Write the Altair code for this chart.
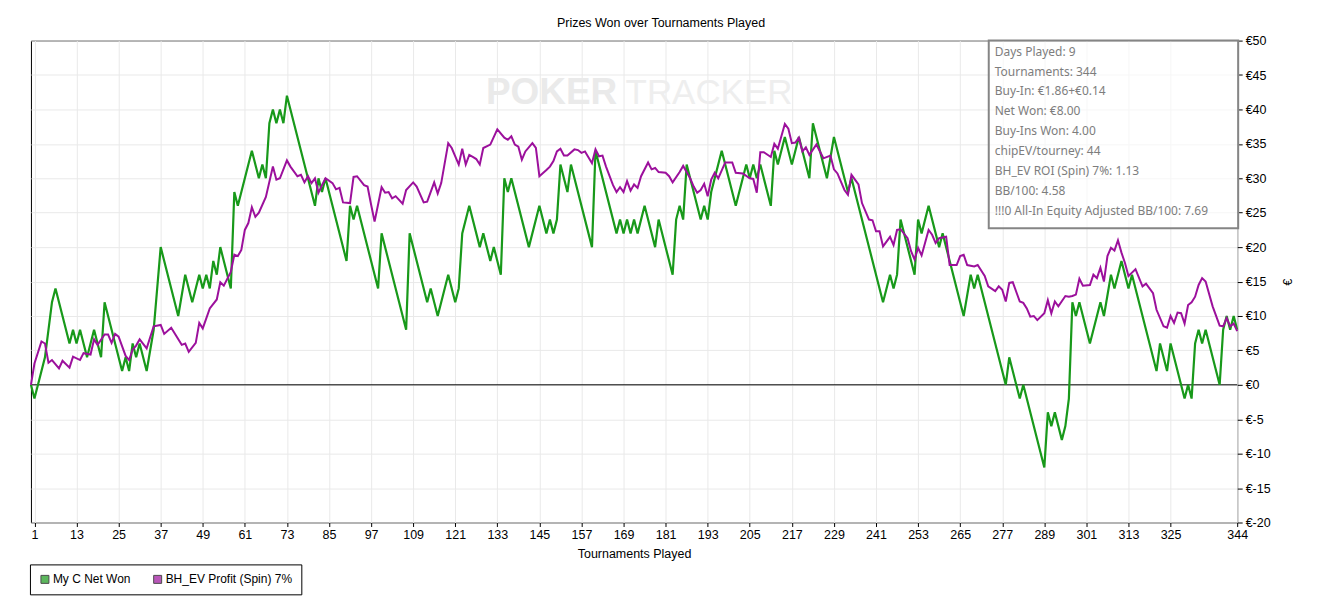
import altair as alt
import pandas as pd

# ---------------- data ----------------
green_t = [0, 1, 4, 6, 7, 11, 12, 13, 14, 16, 18, 20, 21, 26, 27, 28, 29, 30, 31, 33, 35, 37,
           42, 44, 46, 48, 49, 50, 51, 52, 53, 54, 57, 58, 59, 63, 65, 66, 67, 68, 69, 70, 71,
           72, 73, 81, 82, 83, 84, 90, 91, 92, 93, 99, 100, 107, 108, 113, 114, 116, 119, 121,
           122, 123, 125, 128, 129, 131, 132, 134, 135, 136, 137, 142, 145, 147, 148, 149, 150,
           151, 153, 154, 160, 161, 167, 168, 169, 170, 171, 172, 173, 175, 178, 179, 183, 184,
           185, 186, 187, 191, 192, 193, 194, 197, 201, 204, 205, 206, 207, 208, 211, 212, 213,
           215, 217, 219, 222, 223, 227, 229, 233, 234, 243, 245, 246, 247, 248, 252, 253, 254,
           256, 259, 260, 266, 268, 269, 270, 278, 279, 282, 283, 289, 290, 291, 292, 294, 295,
           296, 297, 298, 299, 302, 305, 306, 308, 309, 311, 313, 314, 321, 322, 324, 325, 329,
           330, 331, 332, 333, 334, 335, 339, 340, 341, 342, 343, 344]
green_v = [0, -2, 4, 12, 14, 6, 8, 6, 8, 4, 8, 4, 12, 2, 4, 2, 6, 4, 6, 2, 8, 20,
           10, 16, 12, 16, 14, 16, 14, 18, 16, 20, 14, 28, 26, 34, 30, 32, 30, 38, 40, 38, 40,
           38, 42, 26, 30, 28, 30, 18, 26, 24, 26, 14, 22, 8, 22, 12, 14, 10, 16, 12,
           14, 22, 26, 20, 22, 18, 20, 16, 30, 28, 30, 20, 26, 22, 24, 22, 24,
           32, 28, 32, 20, 34, 22, 24, 22, 24, 22, 24, 22, 26, 20, 24, 16, 24,
           26, 24, 32, 24, 26, 24, 28, 34, 26, 32, 30, 32, 30, 32, 26, 34, 32,
           36, 32, 36, 30, 38, 30, 36, 28, 30, 12, 16, 14, 16, 24, 16, 24, 22,
           26, 20, 22, 10, 16, 14, 16, 0, 4, -2, 0, -12, -4, -6, -4, -8, -6,
           -2, 12, 10, 12, 6, 12, 10, 16, 14, 18, 14, 16, 2, 6, 2, 6, -2,
           0, -2, 6, 8, 6, 8, 0, 8, 10, 8, 10, 8]

purple_t = [0, 1, 3, 4, 5, 6, 8, 9, 11, 12, 14, 15, 17, 18, 19, 21, 22, 23, 24, 25, 27, 28,
            29, 30, 31, 33, 35, 37, 38, 40, 43, 44, 45, 47, 48, 49, 51, 53, 54, 55, 57, 58, 59,
            60, 61, 62, 63, 64, 65, 67, 69, 70, 71, 73, 74, 76, 77, 78, 79, 80, 81, 82, 83, 84,
            86, 87, 88, 89, 91, 92, 93, 95, 96, 97, 98, 100, 101, 102, 103, 104, 106, 107, 109,
            110, 112, 113, 115, 116, 117, 119, 120, 122, 123, 124, 125, 126, 127, 128, 129, 131,
            133, 135, 136, 137, 138, 139, 140, 141, 143, 144, 145, 147, 148, 149, 150, 151, 152,
            153, 155, 156, 157, 158, 160, 161, 162, 163, 164, 166, 167, 168, 169, 170, 171, 172,
            173, 174, 176, 177, 178, 179, 181, 182, 183, 185, 186, 188, 189, 190, 191, 192, 193,
            194, 195, 196, 198, 200, 201, 203, 205, 206, 207, 208, 209, 211, 212, 213, 215, 216,
            217, 218, 219, 220, 221, 222, 224, 226, 228, 229, 230, 232, 233, 234, 236, 237, 239,
            240, 241, 242, 243, 245, 246, 247, 248, 250, 251, 252, 253, 254, 256, 257, 258, 259,
            261, 262, 264, 265, 266, 267, 269, 270, 271, 272, 273, 275, 276, 277, 278, 279, 280,
            282, 283, 284, 285, 286, 287, 289, 290, 291, 292, 293, 295, 296, 297, 298, 299, 300,
            302, 303, 304, 305, 306, 307, 308, 309, 310, 311, 312, 313, 314, 315, 317, 318, 320,
            321, 323, 324, 325, 326, 327, 328, 329, 330, 331, 332, 333, 334, 335, 337, 339, 340,
            341, 342, 343, 344]
purple_v = [0, 3.1, 6.3, 6.0, 3.2, 3.6, 2.4, 3.5, 2.5, 4.1, 3.6, 4.6, 4.4, 6.6, 5.8, 7.3, 7.3, 6.1,
            7.4, 7.0, 4.2, 3.6, 5.1, 5.7, 6.6, 5.3, 8.5, 8.7, 7.4, 8.3, 5.8, 6.0, 4.8, 6.1, 9.0,
            8.2, 11.1, 12.4, 14.9, 14.4, 16.4, 18.9, 18.7, 19.6, 22.5, 23.5, 25.8, 24.4, 25.0,
            27.3, 31.7, 29.8, 30.0, 32.6, 31.7, 30.3, 30.5, 29.4, 30.3, 29.3, 30.0, 27.9, 29.0,
            30.0, 29.3, 28.4, 28.6, 26.5, 26.4, 30.2, 30.3, 29.0, 28.8, 26.2, 23.7, 28.7, 27.9,
            28.0, 27.1, 27.4, 26.3, 28.3, 29.4, 28.8, 26.5, 26.6, 29.4, 27.8, 29.3, 35.1, 34.4,
            32.0, 34.3, 32.0, 33.4, 33.1, 32.8, 32.0, 34.4, 34.9, 37.1, 35.9, 35.6, 36.1, 34.9,
            34.6, 32.7, 33.9, 35.1, 34.4, 30.3, 31.2, 31.7, 32.5, 33.9, 34.3, 33.3, 33.3, 34.2,
            34.1, 33.7, 33.9, 32.2, 34.2, 33.2, 33.3, 31.7, 29.0, 28.0, 28.7, 28.0, 29.6, 28.2,
            29.1, 28.6, 30.3, 32.3, 31.3, 31.5, 30.9, 30.8, 30.3, 29.4, 30.9, 31.8, 30.0, 28.8,
            27.9, 28.3, 29.2, 27.4, 29.8, 30.8, 30.0, 32.3, 32.3, 30.8, 30.7, 30.0, 29.9, 27.9,
            33.8, 33.8, 33.1, 35.0, 34.3, 37.9, 37.2, 35.1, 35.2, 35.9, 33.9, 34.5, 33.4, 34.9,
            32.9, 33.3, 31.3, 30.7, 28.3, 27.6, 30.5, 29.1, 26.4, 24.0, 23.9, 22.3, 22.3, 20.1,
            21.5, 20.3, 22.5, 22.6, 21.3, 19.4, 18.2, 19.9, 18.8, 22.5, 21.8, 20.6, 21.3, 21.5,
            17.4, 17.4, 18.7, 18.9, 17.4, 17.2, 17.4, 16.6, 15.8, 14.3, 13.6, 14.3, 13.8, 12.1,
            14.8, 14.9, 12.1, 11.9, 11.1, 9.9, 10.0, 9.4, 10.4, 12.3, 10.4, 12.1, 11.4, 12.9,
            12.8, 12.9, 13.1, 15.4, 14.4, 14.5, 16.0, 15.5, 17.0, 15.0, 18.7, 19.9, 19.5, 21.0,
            19.2, 17.7, 15.8, 16.3, 16.8, 14.3, 14.7, 13.3, 10.9, 8.5, 8.3, 10.0, 9.0, 10.5,
            10.4, 8.9, 11.6, 12.0, 12.8, 14.5, 15.5, 15.0, 11.4, 8.6, 8.5, 9.7, 8.5, 8.9, 7.8]

series_names = ["My C Net Won", "BH_EV Profit (Spin) 7%"]
series_colors = ["#18991a", "#9c109c"]

x_ticks = [1, 13, 25, 37, 49, 61, 73, 85, 97, 109, 121, 133, 145, 157, 169, 181, 193,
           205, 217, 229, 241, 253, 265, 277, 289, 301, 313, 325, 344]
y_ticks = [-20, -15, -10, -5, 0, 5, 10, 15, 20, 25, 30, 35, 40, 45, 50]
zero_line = [0]

chart_title = "Prizes Won over Tournaments Played"
x_title = "Tournaments Played"
y_title = "€"
info_lines = [
    "Days Played: 9",
    "Tournaments: 344",
    "Buy-In: €1.86+€0.14",
    "Net Won: €8.00",
    "Buy-Ins Won: 4.00",
    "chipEV/tourney: 44",
    "BH_EV ROI (Spin) 7%: 1.13",
    "BB/100: 4.58",
    "!!!0 All-In Equity Adjusted BB/100: 7.69",
]
watermark = ["POKER", "TRACKER"]

# ---------------- tables ----------------
green_df = pd.DataFrame({"t": green_t, "v": green_v, "series": series_names[0]})
purple_df = pd.DataFrame({"t": purple_t, "v": purple_v, "series": series_names[1]})
all_df = pd.concat([green_df, purple_df], ignore_index=True)

FONT = "Liberation Sans"
FS = 12.5

x_enc = alt.X("t:Q",
              scale=alt.Scale(domain=[0, 344], nice=False, zero=False),
              axis=alt.Axis(values=x_ticks, title=x_title, grid=True, gridColor="#e9e9e9",
                            domain=False, tickSize=4, tickColor="black", labelPadding=2,
                            labelFont=FONT, labelFontSize=FS, labelColor="black",
                            labelFlush=False, labelOverlap=False,
                            titleFont=FONT, titleFontSize=FS, titleFontWeight="normal",
                            titleColor="black", titlePadding=7))
y_enc = alt.Y("v:Q",
              scale=alt.Scale(domain=[-20, 50], nice=False, zero=False),
              axis=alt.Axis(orient="right", values=y_ticks, labelExpr="'€' + datum.value",
                            title=y_title, grid=True, gridColor="#e9e9e9", domain=False,
                            tickSize=5, tickColor="black", labelPadding=3,
                            labelFont=FONT, labelFontSize=FS, labelColor="black",
                            labelFlush=False, labelOverlap=False,
                            titleFont=FONT, titleFontSize=12, titleFontWeight="normal",
                            titleColor="black", titleAngle=270, titlePadding=24))

zero_rule = alt.Chart(pd.DataFrame({"v": zero_line})).mark_rule(
    color="black", strokeWidth=1).encode(y=y_enc)

green_line = alt.Chart(green_df).mark_line(
    color=series_colors[0], strokeWidth=2.2).encode(x=x_enc, y=y_enc)
purple_line = alt.Chart(purple_df).mark_line(
    color=series_colors[1], strokeWidth=2).encode(x=x_enc, y=y_enc)

legend_layer = alt.Chart(all_df).mark_square().encode(
    x=x_enc, y=y_enc,
    fill=alt.Fill("series:N",
                  scale=alt.Scale(domain=series_names, range=series_colors),
                  legend=alt.Legend(title=None, orient="none", legendX=-1, legendY=525,
                                    direction="horizontal", strokeColor="black",
                                    fillColor="white", padding=9, cornerRadius=0,
                                    symbolType="square", symbolSize=64,
                                    symbolStrokeColor="black", symbolStrokeWidth=1,
                                    labelFont=FONT, labelFontSize=12, labelColor="black",
                                    labelOffset=2, columnPadding=21))
).transform_filter("false")

wm_poker = alt.Chart(pd.DataFrame({"w": [watermark[0]]})).mark_text(
    align="left", baseline="alphabetic", font=FONT, fontSize=37,
    fontWeight="bold", color="#eaeaea").encode(x=alt.value(456), y=alt.value(64), text="w:N")
wm_tracker = alt.Chart(pd.DataFrame({"w": [watermark[1]]})).mark_text(
    align="left", baseline="alphabetic", font=FONT, fontSize=35,
    fontWeight="normal", color="#eeeeee").encode(x=alt.value(596), y=alt.value(64), text="w:N")

info_box = alt.Chart(pd.DataFrame({"k": [0]})).mark_rect(
    fill="white", fillOpacity=0.6, stroke="#858585", strokeWidth=2).encode(
    x=alt.value(960), x2=alt.value(1210), y=alt.value(0), y2=alt.value(188))
info_text = alt.Chart(pd.DataFrame({"txt": ["\n".join(info_lines)]})).mark_text(
    align="left", baseline="alphabetic", lineBreak="\n", lineHeight=20,
    font="Noto Sans", fontSize=12, color="#7d7d7d").encode(
    x=alt.value(966), y=alt.value(15), text="txt:N")

chart = alt.layer(
    wm_poker, wm_tracker, zero_rule, green_line, purple_line, legend_layer, info_box, info_text
).properties(
    width=1209, height=483,
    padding={"left": 23, "top": 32, "right": 80, "bottom": 80},
    autosize=alt.AutoSizeParams(type="none"),
    title=alt.TitleParams(chart_title, font=FONT, fontSize=FS, fontWeight="normal",
                          color="black", anchor="middle", frame="group", dx=27, offset=5),
    background="white",
).configure_view(stroke="black", strokeWidth=1)

chart.save("out.html", embed_options={"renderer": "svg", "actions": False})
